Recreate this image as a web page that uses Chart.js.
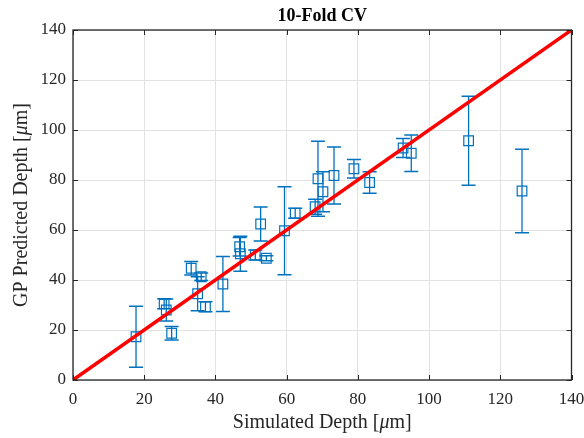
<!DOCTYPE html>
<html>
<head>
<meta charset="utf-8">
<script src="https://cdn.jsdelivr.net/npm/chart.js@4"></script>
<style>
  html, body { margin: 0; padding: 0; background: #fff; }
  #wrap { width: 584px; height: 438px; }
</style>
</head>
<body>
<div id="wrap"><canvas id="cv"></canvas></div>
<script>
// simulated depth (x), GP predicted depth (y), and half error-bar length
const simDepth = [17.7, 25.6, 26.2, 27.7, 33.2, 35.0, 36.0, 37.2, 42.1, 46.8, 47.0, 51.2, 52.7,
  54.3, 59.4, 62.4, 68.0, 68.8, 70.2, 73.3, 78.9, 83.3, 92.7, 95.0, 111.1, 126.1];
const predDepth = [17.3, 30.5, 28.0, 18.7, 44.7, 34.5, 41.3, 29.3, 38.4, 53.3, 50.5, 50.0, 62.4,
  48.7, 59.7, 66.7, 69.3, 80.5, 75.3, 81.8, 84.5, 79.0, 92.8, 90.7, 95.7, 75.6];
const predErr = [12.2, 2.0, 4.4, 2.7, 2.7, 6.8, 1.5, 2.0, 11.0, 3.7, 7.0, 2.0, 6.8,
  1.0, 17.6, 2.0, 3.0, 15.0, 8.0, 11.4, 3.7, 4.3, 3.8, 7.3, 17.8, 16.7];
const axisTicks = [0, 20, 40, 60, 80, 100, 120, 140];

const blue = "#0072BD";
const axisColor = "#262626";
const serif = "'Liberation Serif', 'Times New Roman', serif";

const points = simDepth.map((x, i) => ({ x: x, y: predDepth[i] }));

const errorBars = {
  id: "errorBars",
  beforeDatasetsDraw(chart) {
    const { ctx, scales: { x, y } } = chart;
    ctx.save();
    ctx.strokeStyle = blue;
    ctx.lineWidth = 1.3;
    const cap = 7;
    points.forEach((p, i) => {
      const px = x.getPixelForValue(p.x);
      const top = y.getPixelForValue(p.y + predErr[i]);
      const bot = y.getPixelForValue(p.y - predErr[i]);
      ctx.beginPath();
      ctx.moveTo(px, top); ctx.lineTo(px, bot);
      ctx.moveTo(px - cap, top); ctx.lineTo(px + cap, top);
      ctx.moveTo(px - cap, bot); ctx.lineTo(px + cap, bot);
      ctx.stroke();
    });
    ctx.restore();
  }
};

function drawMixed(ctx, parts, size) {
  // parts: [text, italic]
  let total = 0;
  parts.forEach(([t, it]) => {
    ctx.font = (it ? "italic " : "") + size + "px " + serif;
    total += ctx.measureText(t).width;
  });
  let cx = -total / 2;
  parts.forEach(([t, it]) => {
    ctx.font = (it ? "italic " : "") + size + "px " + serif;
    ctx.fillText(t, cx, 0);
    cx += ctx.measureText(t).width;
  });
}

const frame = {
  id: "frame",
  afterDraw(chart) {
    const { ctx, chartArea: a, scales: { x, y } } = chart;
    ctx.save();
    ctx.strokeStyle = axisColor;
    ctx.lineWidth = 1;
    ctx.beginPath();
    const tl = 5;
    axisTicks.forEach(v => {
      const px = Math.round(x.getPixelForValue(v)) + 0.5;
      ctx.moveTo(px, a.bottom); ctx.lineTo(px, a.bottom - tl);
      ctx.moveTo(px, a.top); ctx.lineTo(px, a.top + tl);
      const py = Math.round(y.getPixelForValue(v)) + 0.5;
      ctx.moveTo(a.left, py); ctx.lineTo(a.left + tl, py);
      ctx.moveTo(a.right, py); ctx.lineTo(a.right - tl, py);
    });
    ctx.stroke();
    ctx.lineWidth = 1.3;
    ctx.strokeRect(a.left, a.top, a.right - a.left, a.bottom - a.top);

    ctx.fillStyle = "#000";
    ctx.textBaseline = "middle";
    const midX = (a.left + a.right) / 2;
    ctx.font = "bold 18px " + serif;
    ctx.textAlign = "center";
    ctx.fillText("10-Fold CV", midX, 16);

    ctx.fillStyle = axisColor;
    ctx.textAlign = "left";
    ctx.save();
    ctx.translate(midX, 423);
    drawMixed(ctx, [["Simulated Depth [", false], ["\u03bc", true], ["m]", false]], 20);
    ctx.restore();

    ctx.save();
    ctx.translate(22, (a.top + a.bottom) / 2);
    ctx.rotate(-Math.PI / 2);
    drawMixed(ctx, [["GP Predicted Depth [", false], ["\u03bc", true], ["m]", false]], 20);
    ctx.restore();
    ctx.restore();
  }
};

new Chart(document.getElementById("cv"), {
  type: "scatter",
  data: {
    datasets: [
      {
        label: "ideal",
        data: [{ x: 0, y: 0 }, { x: 140, y: 140 }],
        showLine: true,
        borderColor: "#FF0000",
        borderWidth: 3.5,
        pointRadius: 0
      },
      {
        label: "CV",
        data: points,
        pointStyle: "rect",
        pointRadius: 6.8,
        borderColor: blue,
        borderWidth: 1.2,
        backgroundColor: "rgba(0,0,0,0)"
      }
    ]
  },
  options: {
    responsive: true,
    maintainAspectRatio: false,
    animation: false,
    layout: { padding: { top: 30, right: 12.5, left: 0, bottom: 0 } },
    plugins: { legend: { display: false }, tooltip: { enabled: false } },
    scales: {
      x: {
        min: 0, max: 140,
        afterFit: s => { s.height = 58; s.paddingLeft = 0; s.paddingRight = 0; },
        afterBuildTicks: s => { s.ticks = axisTicks.map(v => ({ value: v })); },
        grid: { color: "#e2e2e2", drawTicks: false },
        border: { display: false },
        ticks: { padding: 9, color: axisColor, font: { family: serif, size: 17 } }
      },
      y: {
        min: 0, max: 140,
        afterFit: s => { s.width = 73; s.paddingTop = 0; s.paddingBottom = 0; },
        afterBuildTicks: s => { s.ticks = axisTicks.map(v => ({ value: v })); },
        grid: { color: "#e2e2e2", drawTicks: false },
        border: { display: false },
        ticks: { padding: 7, color: axisColor, font: { family: serif, size: 17 } }
      }
    }
  },
  plugins: [errorBars, frame]
});
</script>
</body>
</html>
